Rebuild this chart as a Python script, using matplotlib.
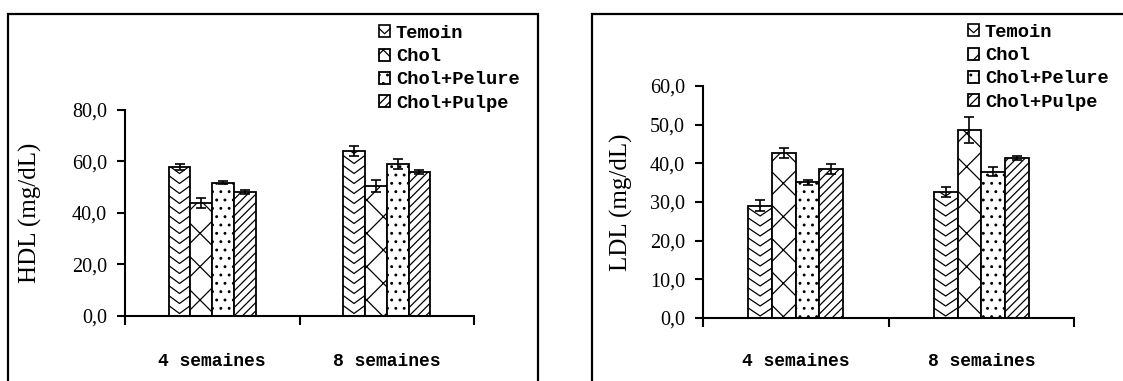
import numpy as np
import matplotlib
matplotlib.use("Agg")
import matplotlib.pyplot as plt
from matplotlib.patches import Rectangle
from matplotlib.lines import Line2D
from matplotlib.collections import LineCollection
from matplotlib.legend_handler import HandlerPatch

# ---- data -------------------------------------------------------------
periods = ["4 semaines", "8 semaines"]
groups = ["Temoin", "Chol", "Chol+Pelure", "Chol+Pulpe"]

hdl_temoin = [57.8, 63.9]
hdl_chol = [43.8, 50.4]
hdl_pelure = [51.6, 59.0]
hdl_pulpe = [48.0, 55.8]
hdl_err_temoin = [1.0, 1.9]
hdl_err_chol = [1.9, 2.3]
hdl_err_pelure = [0.6, 2.0]
hdl_err_pulpe = [0.8, 0.8]

ldl_temoin = [29.0, 32.6]
ldl_chol = [42.7, 48.6]
ldl_pelure = [35.1, 37.8]
ldl_pulpe = [38.5, 41.4]
ldl_err_temoin = [1.4, 1.2]
ldl_err_chol = [1.3, 3.4]
ldl_err_pelure = [0.7, 1.2]
ldl_err_pulpe = [1.3, 0.6]

# ---- styling ----------------------------------------------------------
SERIF = "Liberation Serif"
MONO = "Liberation Mono"
hatches = [None, "x", "..", "////"]   # Temoin gets chevrons drawn separately
plt.rcParams["hatch.linewidth"] = 0.9

W, H = 1123, 381
fig = plt.figure(figsize=(W / 100, H / 100), dpi=100)


def px_axes(x0, x1, ytop, ybot):
    return fig.add_axes([x0 / W, (H - ybot) / H, (x1 - x0) / W, (ybot - ytop) / H])


def chevrons(ax, patch, spacing_px=10, depth_px=8):
    """Fill a bar with stacked V-shaped lines, clipped to the bar."""
    x0, w, h = patch.get_x(), patch.get_width(), patch.get_height()
    bb = ax.get_window_extent()
    y0, y1 = ax.get_ylim()
    per_px = (y1 - y0) / bb.height
    dy = spacing_px * per_px
    depth = depth_px * per_px
    segs = []
    y = -dy
    while y < h + dy + depth:
        segs.append([(x0, y), (x0 + w / 2, y - depth), (x0 + w, y)])
        y += dy
    lc = LineCollection(segs, colors="black", linewidths=0.9, zorder=2.5)
    ax.add_collection(lc)
    lc.set_clip_path(patch)


class ChevronHandler(HandlerPatch):
    def create_artists(self, legend, orig_handle, xdescent, ydescent,
                       width, height, fontsize, trans):
        x0, y0 = -xdescent, -ydescent
        rect = Rectangle((x0, y0), width, height, facecolor="white",
                         edgecolor="black", lw=1.2, transform=trans)
        line = Line2D([x0, x0 + width / 2, x0 + width],
                      [y0 + height * 0.75, y0 + height * 0.3, y0 + height * 0.75],
                      color="black", lw=0.9, transform=trans)
        return [rect, line]


def draw_panel(ax, means, errs, ymax, step, ylabel, bar_w, label_x,
               xpad, legend_xy):
    x = np.arange(len(periods))
    bars = []
    for i, (vals, err) in enumerate(zip(means, errs)):
        pos = x + (i - 1.5) * bar_w
        b = ax.bar(pos, vals, bar_w, facecolor="white", edgecolor="black",
                   linewidth=1.3, hatch=hatches[i], zorder=2)
        ax.errorbar(pos, vals, yerr=err, fmt="none", ecolor="black",
                    elinewidth=1.2, capsize=3.5, capthick=1.2, zorder=3)
        bars.append(b)

    ax.set_xlim(-0.5, len(periods) - 0.5)
    ax.set_ylim(0, ymax)
    yt = np.arange(0, ymax + step / 2, step)
    ax.set_yticks(yt)
    ax.set_yticklabels([f"{v:.1f}".replace(".", ",") for v in yt],
                       fontsize=14.5, family=SERIF)
    ax.set_xticks(x)
    ax.set_xticklabels(periods, fontsize=13, family=MONO, fontweight="bold")
    ax.set_xticks(np.arange(-0.5, len(periods)), minor=True)

    for s in ("top", "right"):
        ax.spines[s].set_visible(False)
    for s in ("left", "bottom"):
        ax.spines[s].set_linewidth(1.5)
    ax.tick_params(axis="y", direction="out", length=6, width=1.5, pad=7)
    ax.tick_params(axis="x", which="major", length=0, pad=xpad)
    ax.tick_params(axis="x", which="minor", direction="out", length=6.5,
                   width=1.5)

    ax.set_ylabel(ylabel, fontsize=18, family=SERIF)
    ax.yaxis.set_label_coords(label_x, 0.5)

    for p in bars[0].patches:
        chevrons(ax, p)

    handles = [b.patches[0] for b in bars]
    ax.legend(handles, groups, loc="upper left",
              bbox_to_anchor=(legend_xy[0] / W, 1 - legend_xy[1] / H),
              bbox_transform=fig.transFigure, frameon=False,
              borderpad=0, borderaxespad=0, handlelength=0.6,
              handleheight=0.6, handletextpad=0.3, labelspacing=0.33,
              prop={"family": MONO, "size": 13.5, "weight": "bold"},
              handler_map={handles[0]: ChevronHandler()})


ax1 = px_axes(125, 474, 110, 315.5)
ax2 = px_axes(703, 1074, 86, 318)

draw_panel(ax1,
           [hdl_temoin, hdl_chol, hdl_pelure, hdl_pulpe],
           [hdl_err_temoin, hdl_err_chol, hdl_err_pelure, hdl_err_pulpe],
           80, 20, "HDL (mg/dL)", 0.125, -0.238, 27, (379, 25))
draw_panel(ax2,
           [ldl_temoin, ldl_chol, ldl_pelure, ldl_pulpe],
           [ldl_err_temoin, ldl_err_chol, ldl_err_pelure, ldl_err_pulpe],
           60, 10, "LDL (mg/dL)", 0.128, -0.189, 25, (968, 24))

# outer panel frames (open at the bottom edge of the image)
fig.add_artist(Rectangle((8 / W, -0.1), (538 - 8) / W, (H - 14) / H + 0.1,
                         transform=fig.transFigure, fill=False,
                         edgecolor="black", lw=1.6))
fig.add_artist(Rectangle((592 / W, -0.1), 0.5, (H - 14) / H + 0.1,
                         transform=fig.transFigure, fill=False,
                         edgecolor="black", lw=1.6))

fig.savefig("out.png", dpi=100, facecolor="white")
